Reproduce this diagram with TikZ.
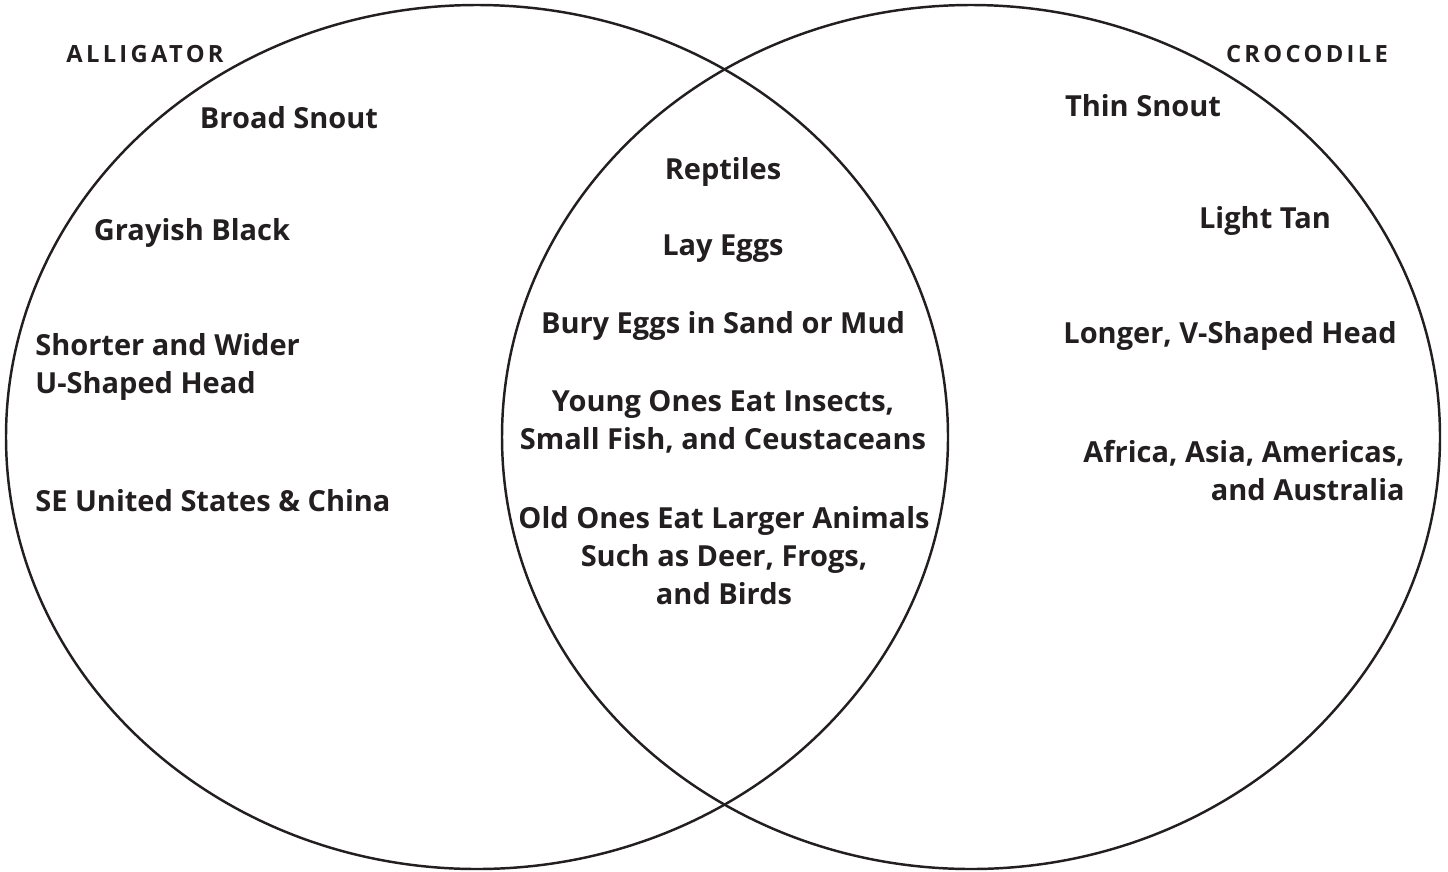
\documentclass[tikz,border=0pt]{standalone}
\usepackage{fontspec}
\setmainfont{Open Sans}
\usepackage{xcolor}
\usetikzlibrary{calc}
\definecolor{inkk}{HTML}{231F20}

\begin{document}
\begin{tikzpicture}[x=0.2mm,y=-0.2mm,
	txt/.style={text=inkk,font=\fontsize{16.5}{21.6}\selectfont\bfseries,inner sep=0pt,align=center},
	ttl/.style={text=inkk,font=\fontsize{13.5}{15}\selectfont\bfseries\addfontfeature{LetterSpace=14},inner sep=0pt}]
	\useasboundingbox (0,0) rectangle (1448,871);
	\draw[inkk,line width=1.4pt] (477,437) ellipse[x radius=471,y radius=432];
	\draw[inkk,line width=1.4pt] (971,437) ellipse[x radius=469,y radius=432];
	% titles
	\node[ttl] (alli) at (145,54) {ALLIGATOR};
	\node[ttl] (croc) at (1307,54) {CROCODILE};
	% alligator
	\node[txt] (broad) at (289,118) {Broad Snout};
	\node[txt] (gray) at (192,233) {Grayish Black};
	\node[txt,align=left,anchor=west] (ushape) at (35,367) {Shorter and Wider\\U-Shaped Head};
	\node[txt,anchor=west] (se) at (35,501) {SE United States \& China};
	% both
	\node[txt] (rept) at (723,172) {Reptiles};
	\node[txt] (lay) at (723,249) {Lay Eggs};
	\node[txt] (bury) at (723,326) {Bury Eggs in Sand or Mud};
	\node[txt] (young) at (723,422) {Young Ones Eat Insects,\\Small Fish, and Ceustaceans};
	\node[txt] (old) at (724,556) {Old Ones Eat Larger Animals\\Such as Deer, Frogs,\\and Birds};
	% crocodile
	\node[txt] (thin) at (1143,106) {Thin Snout};
	\node[txt] (tan) at (1265,221) {Light Tan};
	\node[txt] (vshape) at (1230,336) {Longer, V-Shaped Head};
	\node[txt,align=right,anchor=east] (afr) at (1405,471) {Africa, Asia, Americas,\\and Australia};
\end{tikzpicture}
\end{document}
